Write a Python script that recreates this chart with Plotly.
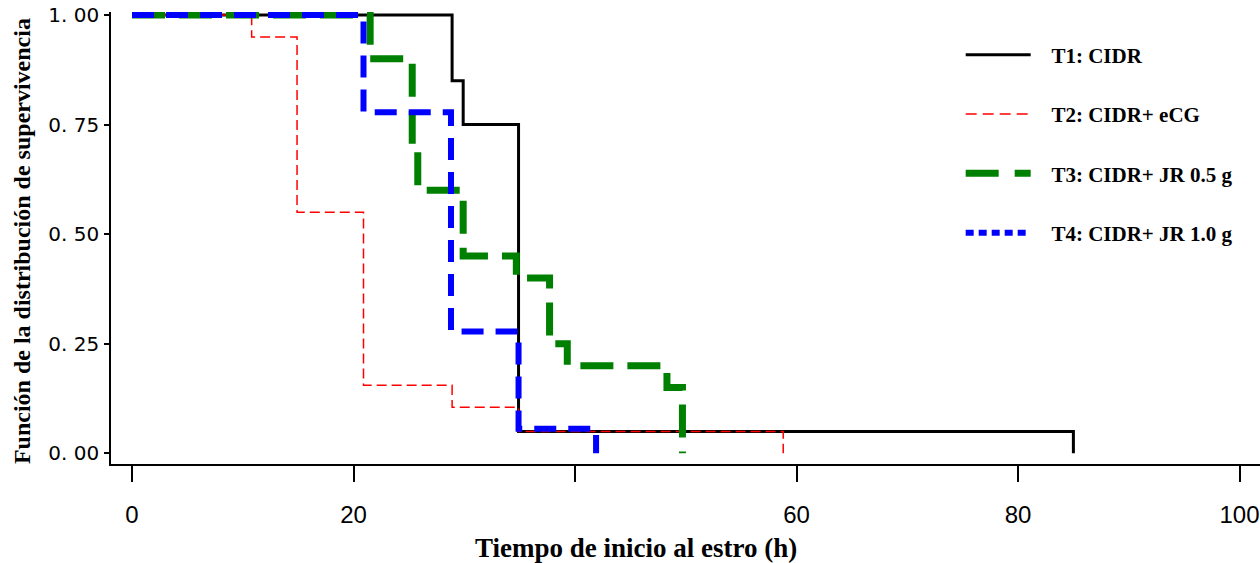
import plotly.graph_objects as go

# ---- data ----
t1_time = [0, 28.9, 29.9, 34.9, 85.0]
t1_surv = [1.0, 0.85, 0.75, 0.05, 0.0]

t2_time = [0, 10.8, 14.9, 20.9, 28.9, 34.9, 58.8]
t2_surv = [1.0, 0.95, 0.55, 0.155, 0.105, 0.05, 0.0]

t3_time = [0, 21.5, 25.3, 25.8, 29.9, 34.7, 37.7, 39.3, 48.3, 49.7]
t3_surv = [1.0, 0.90, 0.70, 0.60, 0.45, 0.40, 0.25, 0.20, 0.15, 0.0]

t4_time = [0, 20.9, 28.8, 34.9, 41.9]
t4_surv = [1.0, 0.778, 0.278, 0.056, 0.0]

names = ["T1: CIDR", "T2: CIDR+ eCG", "T3: CIDR+ JR 0.5 g", "T4: CIDR+ JR 1.0 g"]

x_ticks = [0, 20, 40, 60, 80, 100]
x_ticktext = ["0", "20", "", "60", "80", "100"]
y_ticks = [0, 0.25, 0.5, 0.75, 1.0]
y_ticktext = ["0. 00", "0. 25", "0. 50", "0. 75", "1. 00"]

series = [
    (t1_time, t1_surv, dict(color="#000000", width=3, dash="solid"),
     dict(color="#000000", width=3, dash="solid")),
    (t2_time, t2_surv, dict(color="#ff0000", width=1.5, dash="10px,5px"),
     dict(color="#ff0000", width=1.5, dash="11px,6px")),
    (t3_time, t3_surv, dict(color="#008000", width=7, dash="33px,14px"),
     dict(color="#008000", width=7, dash="33px,16px")),
    (t4_time, t4_surv, dict(color="#0000ff", width=6, dash="22px,12px"),
     dict(color="#0000ff", width=6, dash="8px,5px")),
]

pad = "\u00a0\u00a0\u00a0"

fig = go.Figure()
for (tx, sy, ln, _), nm in zip(series, names):
    fig.add_trace(go.Scatter(x=tx, y=sy, mode="lines", line=dict(shape="hv", **ln),
                             name=nm, showlegend=False, cliponaxis=False,
                             hoverinfo="skip"))
for i, ((_, _, _, lg), nm) in enumerate(zip(series, names)):
    fig.add_trace(go.Scatter(x=[None], y=[None], mode="lines", line=lg, name=pad + nm,
                             legendgroup=f"g{i}", showlegend=True))

fig.update_layout(
    width=1260, height=563,
    margin=dict(l=111, r=0, t=12, b=99),
    plot_bgcolor="white", paper_bgcolor="white",
    showlegend=True,
    legend=dict(x=0.7395, y=0.95, xanchor="left", yanchor="top",
                font=dict(family="Liberation Serif", size=21, color="black", weight="bold"),
                itemwidth=65, tracegroupgap=29, bgcolor="rgba(0,0,0,0)",
                traceorder="grouped"),
    xaxis=dict(range=[-1.9, 101.85], tickvals=x_ticks, ticktext=x_ticktext,
               showgrid=False, zeroline=False, showline=True, linecolor="black",
               linewidth=2, ticks="outside", ticklen=16, tickwidth=1.5,
               tickcolor="black", ticklabelstandoff=12, ticklabeloverflow="allow",
               tickfont=dict(family="Liberation Sans", size=24, color="black")),
    yaxis=dict(range=[-0.0244, 1.0068], tickvals=y_ticks, ticktext=y_ticktext,
               showgrid=False, zeroline=False, showline=True, linecolor="black",
               linewidth=1.5, ticks="outside", ticklen=5, tickwidth=1.5,
               tickcolor="black", ticklabelstandoff=1,
               tickfont=dict(family="DejaVu Sans", size=20, color="black")),
    annotations=[
        dict(text="Tiempo de inicio al estro (h)", xref="paper", yref="paper",
             x=0.457, y=-0.186, xanchor="center", yanchor="middle", showarrow=False,
             font=dict(family="Liberation Serif", size=27, color="black", weight="bold")),
        dict(text="Función de la distribución de supervivencia", xref="paper", yref="paper",
             x=-0.0775, y=0.493, xanchor="center", yanchor="middle", showarrow=False,
             textangle=-90,
             font=dict(family="Liberation Serif", size=24, color="black", weight="bold")),
    ],
)

fig.write_html("out.html")
